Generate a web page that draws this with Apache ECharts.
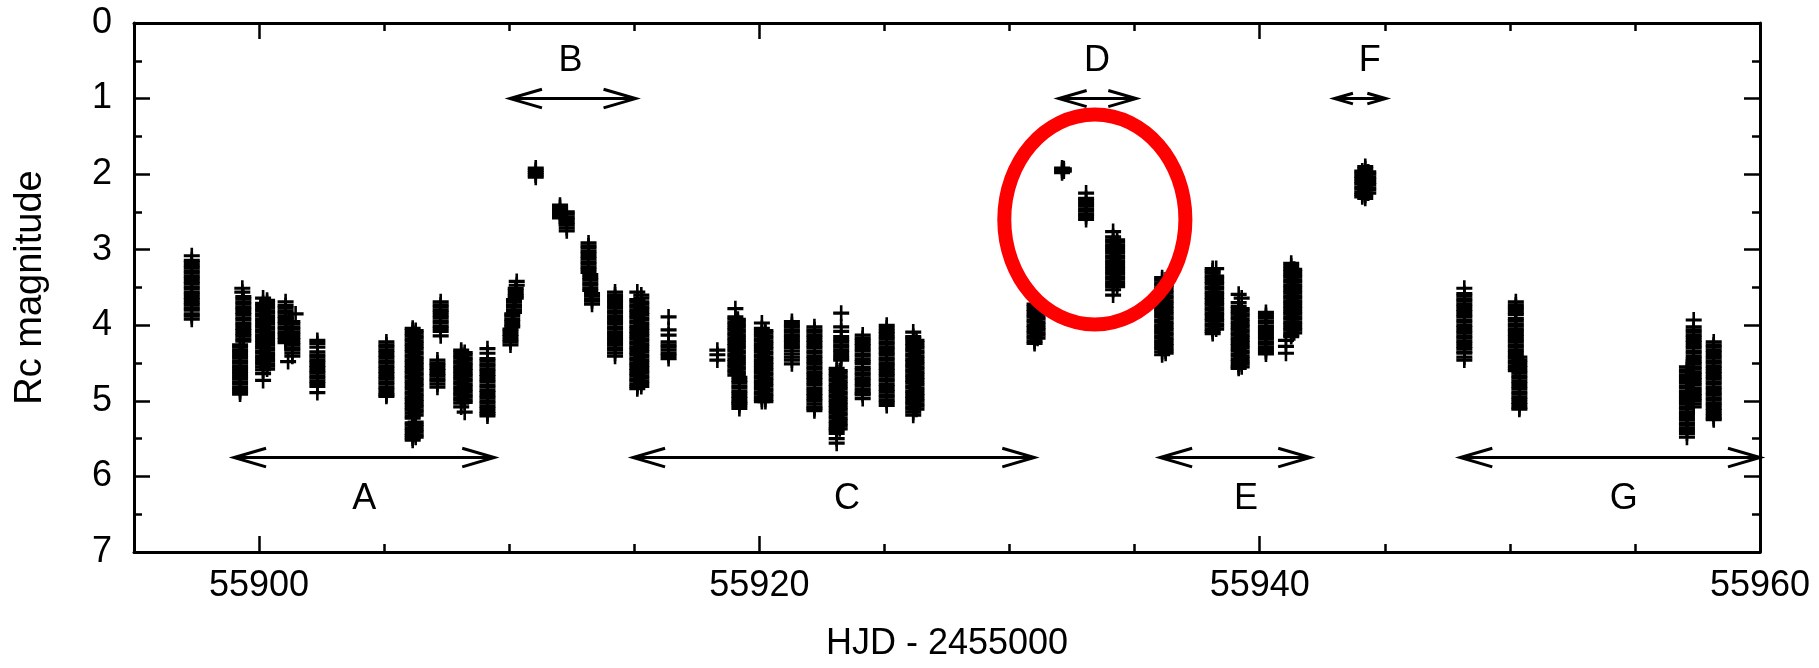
<!DOCTYPE html>
<html>
<head>
<meta charset="utf-8">
<script src="https://cdn.jsdelivr.net/npm/echarts@6/dist/echarts.min.js"></script>
<style>
  html, body { margin: 0; padding: 0; background: #ffffff; }
  #chart { width: 1819px; height: 668px; }
</style>
</head>
<body>
<div id="chart"></div>
<script>
// Rc-band light curve: each run is one block of exposures taken at (nearly) the same HJD.
const runHJD = [
  55897.31, 55899.33, 55899.37, 55899.24, 55900.16, 55900.32, 55901.06, 55901.33, 55901.46, 55901.16,
  55902.33, 55905.09, 55906.14, 55906.26, 55907.26, 55907.13, 55908.08, 55908.22, 55909.13, 55910.05,
  55910.12, 55910.19, 55910.26, 55910.30, 55911.06, 55912.03, 55912.30, 55913.17, 55913.24, 55913.31,
  55914.23, 55915.12, 55915.28, 55916.37, 55918.32, 55919.04, 55919.14, 55919.20, 55920.10, 55920.24,
  55921.30, 55922.20, 55923.27, 55923.09, 55923.21, 55924.13, 55925.09, 55926.15, 55926.28, 55931.00,
  55931.12, 55932.10, 55932.17, 55933.06, 55934.14, 55934.30, 55936.10, 55936.24, 55938.12, 55938.26,
  55939.16, 55939.28, 55940.25, 55941.26, 55941.38, 55941.05, 55944.10, 55944.22, 55944.34, 55948.18,
  55950.24, 55950.38, 55957.08, 55957.35, 55958.15
];

const runRc = [
  [3.08,3.14,3.17,3.21,3.24,3.28,3.31,3.35,3.38,3.42,3.45,3.49,3.52,3.56,3.59,3.63,3.66,3.70,3.73,3.77,3.80,3.85,3.88,3.92],
  [3.51,3.56],
  [3.62,3.65,3.69,3.72,3.76,3.79,3.83,3.86,3.90,3.93,3.97,4.00,4.04,4.07,4.11,4.14,4.18,4.21],
  [4.26,4.29,4.33,4.36,4.40,4.43,4.47,4.50,4.54,4.57,4.61,4.64,4.68,4.71,4.75,4.78,4.82,4.85,4.88,4.91],
  [3.64,3.71,3.74,3.78,3.81,3.85,3.88,3.92,3.95,3.99,4.02,4.06,4.09,4.13,4.16,4.20,4.23,4.27,4.30,4.34,4.37,4.41,4.44,4.48,4.51,4.55,4.59,4.64,4.73],
  [3.67,3.70,3.74,3.77,3.81,3.84,3.88,3.91,3.95,3.98,4.02,4.05,4.09,4.12,4.16,4.19,4.23,4.26,4.30,4.33,4.37,4.40,4.44,4.47,4.51,4.54,4.58],
  [3.69,3.74,3.77,3.81,3.84,3.88,3.91,3.95,3.98,4.02,4.05,4.09,4.12,4.16,4.19,4.23],
  [3.95,3.98,4.02,4.05,4.09,4.12,4.16,4.19,4.23,4.26,4.30,4.33,4.37,4.41],
  [3.85],
  [4.48],
  [4.20,4.24,4.29,4.35,4.39,4.42,4.46,4.49,4.53,4.56,4.60,4.63,4.67,4.70,4.74,4.77,4.81,4.89],
  [4.22,4.26,4.29,4.33,4.36,4.40,4.43,4.47,4.50,4.54,4.57,4.61,4.64,4.68,4.71,4.75,4.78,4.82,4.85,4.89,4.92,4.94],
  [4.04,4.07,4.11,4.14,4.18,4.21,4.25,4.28,4.32,4.35,4.39,4.42,4.46,4.49,4.53,4.56,4.60,4.63,4.67,4.70,4.74,4.77,4.81,4.84,4.88,4.91,4.95,4.98,5.02,5.05,5.09,5.12,5.16,5.20,5.23,5.29,5.32,5.36,5.39,5.43,5.46,5.49,5.52],
  [4.07,4.10,4.14,4.17,4.21,4.24,4.28,4.31,4.35,4.38,4.42,4.45,4.49,4.52,4.56,4.59,4.63,4.66,4.70,4.73,4.77,4.80,4.84,4.87,4.91,4.94,4.98,5.01,5.05,5.08,5.12,5.15,5.19,5.28,5.31,5.34,5.38,5.41,5.45,5.48],
  [3.69,3.73,3.76,3.80,3.83,3.87,3.90,3.94,3.97,4.01,4.04,4.08,4.14],
  [4.46,4.50,4.53,4.57,4.60,4.64,4.67,4.71,4.74,4.78,4.82],
  [4.33,4.36,4.40,4.43,4.47,4.50,4.54,4.57,4.61,4.64,4.68,4.71,4.75,4.78,4.82,4.85,4.89,4.92,4.96,4.99,5.03,5.08],
  [4.36,4.39,4.43,4.46,4.50,4.53,4.57,4.60,4.64,4.67,4.71,4.74,4.78,4.81,4.85,4.88,4.92,4.95,4.99,5.02,5.15],
  [4.31,4.37,4.44,4.47,4.51,4.54,4.58,4.61,4.65,4.68,4.72,4.75,4.79,4.82,4.86,4.89,4.93,4.96,5.00,5.03,5.07,5.10,5.14,5.17,5.20],
  [4.05,4.08,4.12,4.15,4.19,4.22,4.26],
  [3.85,3.88,3.92,3.95,3.99,4.02],
  [3.66,3.69,3.73,3.76,3.80,3.83],
  [3.51,3.54,3.58,3.61,3.64],
  [3.42,3.47],
  [1.92,1.95,1.98,2.01,2.04],
  [2.41,2.44,2.48,2.51,2.55,2.58],
  [2.50,2.53,2.57,2.60,2.64,2.67,2.71,2.75],
  [2.91,2.95,2.98,3.02,3.05,3.09,3.12,3.16,3.19,3.23,3.26,3.30],
  [3.33,3.37,3.40,3.44,3.47,3.51,3.54],
  [3.58,3.61,3.65,3.68,3.72],
  [3.56,3.60,3.63,3.67,3.70,3.74,3.77,3.81,3.84,3.88,3.91,3.95,3.98,4.02,4.05,4.09,4.12,4.16,4.19,4.23,4.26,4.30,4.33,4.37,4.41],
  [3.56,3.66,3.69,3.73,3.76,3.80,3.83,3.87,3.90,3.94,3.97,4.01,4.04,4.08,4.11,4.15,4.18,4.22,4.25,4.29,4.32,4.36,4.39,4.43,4.46,4.50,4.53,4.57,4.60,4.64,4.67,4.71,4.74,4.78,4.81,4.84],
  [3.60,3.64,3.69,3.72,3.76,3.79,3.83,3.86,3.90,3.93,3.97,4.00,4.04,4.07,4.11,4.14,4.18,4.21,4.25,4.28,4.32,4.35,4.39,4.42,4.46,4.49,4.53,4.56,4.60,4.63,4.67,4.70,4.74,4.77,4.81],
  [3.89,4.06,4.13,4.22,4.26,4.29,4.33,4.37,4.40,4.44],
  [4.33,4.39,4.46],
  [3.78,3.89,3.92,3.96,3.99,4.03,4.06,4.10,4.13,4.17,4.20,4.24,4.27,4.31,4.34,4.38,4.41,4.45,4.48,4.52,4.55,4.59,4.62,4.66],
  [3.92,3.95,3.99,4.02,4.06,4.09,4.13,4.16,4.20,4.23,4.27,4.30,4.34,4.37,4.41,4.44,4.48,4.51,4.55,4.58,4.62,4.65],
  [4.69,4.73,4.76,4.80,4.83,4.87,4.90,4.94,4.97,5.01,5.03,5.06,5.10],
  [3.97,4.04,4.07,4.11,4.14,4.18,4.21,4.25,4.28,4.32,4.35,4.39,4.42,4.46,4.49,4.53,4.56,4.60,4.63,4.67,4.70,4.74,4.77,4.81,4.84,4.88,4.91,4.95,4.98,5.01],
  [4.07,4.10,4.14,4.17,4.21,4.24,4.28,4.31,4.35,4.38,4.42,4.45,4.49,4.52,4.56,4.59,4.63,4.66,4.70,4.73,4.77,4.80,4.84,4.87,4.91,4.94,4.98,5.01],
  [3.95,3.99,4.02,4.06,4.09,4.13,4.16,4.20,4.23,4.27,4.30,4.34,4.38,4.42,4.46,4.51],
  [4.02,4.06,4.09,4.13,4.16,4.20,4.23,4.27,4.30,4.34,4.37,4.41,4.44,4.48,4.51,4.55,4.58,4.62,4.65,4.69,4.72,4.76,4.79,4.83,4.86,4.90,4.93,4.97,5.00,5.04,5.08,5.10,5.13],
  [3.84,4.02,4.08,4.15,4.19,4.22,4.26,4.29,4.33,4.36,4.40,4.43,4.46],
  [4.57,4.60,4.64,4.67,4.71,4.74,4.78,4.81,4.85,4.88,4.92,4.95,4.99,5.02,5.06,5.09,5.13,5.16,5.20,5.23,5.27,5.30,5.34,5.37,5.39,5.43,5.50,5.56],
  [4.60,4.63,4.67,4.70,4.74,4.77,4.81,4.84,4.88,4.91,4.95,4.98,5.02,5.05,5.09,5.12,5.16,5.19,5.23,5.26,5.30,5.33,5.37],
  [4.13,4.17,4.20,4.24,4.27,4.31,4.34,4.38,4.41,4.45,4.48,4.51,4.56,4.59,4.63,4.66,4.70,4.73,4.77,4.80,4.84,4.87,4.90,4.92,4.97],
  [4.00,4.04,4.08,4.11,4.15,4.18,4.22,4.25,4.29,4.32,4.36,4.39,4.43,4.46,4.50,4.53,4.57,4.60,4.64,4.67,4.71,4.74,4.78,4.81,4.85,4.88,4.92,4.95,4.99,5.02,5.06],
  [4.09,4.15,4.17,4.20,4.24,4.27,4.31,4.34,4.38,4.41,4.45,4.48,4.52,4.55,4.59,4.62,4.66,4.69,4.73,4.76,4.80,4.83,4.87,4.90,4.94,4.97,5.01,5.04,5.08,5.11,5.15,5.19],
  [4.20,4.23,4.27,4.30,4.34,4.37,4.41,4.44,4.48,4.51,4.55,4.58,4.62,4.65,4.69,4.72,4.76,4.79,4.83,4.86,4.90,4.93,4.97,5.00,5.04,5.07,5.11],
  [3.72,3.75,3.79,3.82,3.86,3.89,3.93,3.96,4.00,4.03,4.07,4.10,4.14,4.17,4.21,4.24],
  [3.75,3.78,3.82,3.85,3.89,3.92,3.96,3.99,4.03,4.06,4.10,4.13,4.17],
  [1.92,1.95,1.98],
  [1.93,1.96],
  [2.25,2.32,2.35,2.39,2.42,2.46,2.49,2.53,2.56,2.60],
  [2.76,2.83,2.87,2.90,2.94,2.97,3.01,3.04,3.08,3.11,3.15,3.18,3.22,3.25,3.29,3.32,3.36,3.39,3.43,3.46,3.49,3.53,3.60],
  [2.87,2.90,2.94,2.97,3.01,3.04,3.08,3.11,3.15,3.18,3.22,3.25,3.29,3.32,3.36,3.39,3.43,3.46,3.49],
  [3.37,3.40,3.44,3.47,3.51,3.54,3.58,3.61,3.65,3.68,3.72,3.75,3.79,3.82,3.86,3.89,3.93,3.96,4.00,4.03,4.07,4.10,4.14,4.17,4.21,4.24,4.28,4.31,4.35,4.39],
  [3.40,3.43,3.47,3.50,3.54,3.57,3.61,3.64,3.68,3.71,3.75,3.78,3.82,3.85,3.89,3.92,3.96,3.99,4.03,4.06,4.10,4.13,4.17,4.20,4.24,4.27,4.31,4.34,4.37],
  [3.25,3.28,3.31,3.35,3.38,3.42,3.45,3.49,3.52,3.56,3.59,3.63,3.66,3.70,3.73,3.77,3.80,3.84,3.87,3.91,3.94,3.98,4.01,4.05,4.08,4.11],
  [3.25,3.35,3.38,3.42,3.45,3.49,3.52,3.56,3.59,3.63,3.66,3.70,3.73,3.77,3.80,3.84,3.87,3.91,3.94,3.98,4.01,4.05],
  [3.59,3.70,3.75,3.78,3.82,3.85,3.89,3.92,3.96,3.99,4.03,4.06,4.10,4.13,4.17,4.20,4.24,4.27,4.31,4.34,4.38,4.41,4.45,4.48,4.52,4.55,4.57],
  [3.64,3.78,3.81,3.85,3.88,3.92,3.95,3.99,4.02,4.06,4.09,4.13,4.16,4.20,4.23,4.27,4.30,4.34,4.37,4.41,4.44,4.48,4.51,4.55],
  [3.83,3.87,3.90,3.94,3.97,4.01,4.04,4.08,4.11,4.15,4.18,4.22,4.25,4.29,4.32,4.35,4.38],
  [3.18,3.22,3.26,3.29,3.33,3.36,3.40,3.43,3.47,3.50,3.54,3.57,3.61,3.64,3.68,3.71,3.75,3.78,3.82,3.85,3.89,3.92,3.96,3.99,4.03,4.06,4.10,4.13,4.15],
  [3.26,3.29,3.33,3.36,3.40,3.43,3.47,3.50,3.54,3.57,3.61,3.64,3.68,3.71,3.75,3.78,3.82,3.85,3.89,3.92,3.96,3.99,4.03,4.06,4.10],
  [4.20,4.28,4.37],
  [1.96,1.99,2.03,2.06,2.10,2.13,2.17,2.20,2.24,2.27,2.30],
  [1.90,1.93,1.97,2.00,2.04,2.07,2.11,2.14,2.18,2.21,2.25,2.28,2.32],
  [1.97,2.00,2.04,2.07,2.11,2.14,2.18,2.21,2.25],
  [3.51,3.58,3.61,3.65,3.68,3.72,3.75,3.79,3.82,3.86,3.89,3.93,3.96,4.00,4.03,4.07,4.10,4.14,4.17,4.21,4.24,4.28,4.31,4.35,4.37,4.42,4.46],
  [3.69,3.73,3.76,3.79,3.83,3.86,3.91,3.94,3.98,4.01,4.05,4.08,4.12,4.15,4.19,4.22,4.26,4.29,4.33,4.36,4.40,4.43,4.47,4.50,4.54,4.57,4.60],
  [4.42,4.46,4.49,4.53,4.56,4.60,4.63,4.67,4.70,4.74,4.77,4.81,4.84,4.88,4.91,4.95,4.98,5.02,5.05,5.09,5.11],
  [4.55,4.59,4.62,4.66,4.69,4.73,4.76,4.80,4.83,4.87,4.90,4.94,4.97,5.01,5.04,5.08,5.11,5.15,5.18,5.22,5.25,5.29,5.32,5.36,5.39,5.43,5.48],
  [3.93,4.02,4.06,4.09,4.13,4.16,4.20,4.23,4.27,4.30,4.34,4.37,4.41,4.44,4.48,4.51,4.55,4.58,4.62,4.65,4.69,4.72,4.76,4.79,4.83,4.86,4.90,4.93,4.97,5.00,5.04,5.08],
  [4.22,4.26,4.29,4.33,4.36,4.40,4.43,4.47,4.50,4.54,4.57,4.61,4.64,4.68,4.71,4.75,4.78,4.82,4.85,4.89,4.92,4.96,4.99,5.03,5.06,5.10,5.13,5.17,5.20,5.23,5.25]
];

// Observing intervals marked with double-headed arrows
const spanLabels   = ['A', 'B', 'C', 'D', 'E', 'F', 'G'];
const spanStart    = [55899.0, 55910.03, 55914.95, 55931.97, 55936.02, 55942.99, 55948.02];
const spanEnd      = [55909.4, 55915.05, 55930.99, 55935.06, 55942.02, 55945.04, 55960.0];
const spanArrowRc  = [5.75, 1.0, 5.75, 1.0, 5.75, 1.0, 5.75];
const spanLabelHJD = [55904.2, 55912.45, 55923.5, 55933.5, 55939.45, 55944.4, 55954.55];
const spanLabelRc  = [6.3, 0.5, 6.3, 0.5, 6.3, 0.5, 6.3];

// Axis ticks
const xMajorTicks = [55900, 55920, 55940, 55960];
const xMinorTicks = [55905, 55910, 55915, 55925, 55930, 55935, 55945, 55950, 55955];

const FONT = '"Liberation Sans", Arial, Helvetica, sans-serif';
const INK = '#000000';

const points = [];
runHJD.forEach((t, i) => runRc[i].forEach(m => points.push([t, m])));

const spanData = spanLabels.map((lab, i) => [spanStart[i], spanEnd[i], spanArrowRc[i], spanLabelHJD[i], spanLabelRc[i]]);

// circled outburst (D)
const ringCenter = [55933.41, 2.6];
const ringRadius = [3.62, 1.39];

// filled "+" marker: slightly heavier horizontal bar, as in the plotted points
const PLUS = 'path://M0,6.4H16V9.6H0Z M6.7,0H9.3V16H6.7Z';

const chart = echarts.init(document.getElementById('chart'), null, { renderer: 'canvas' });

function xAxisDef(position, major, showLine) {
  return {
    type: 'value', gridIndex: 0, position: position,
    min: 55895, max: 55960,
    axisLine: { show: showLine, onZero: false, lineStyle: { color: INK, width: 3 } },
    axisTick: major
      ? { show: true, inside: true, length: 16, customValues: xMajorTicks, lineStyle: { color: INK, width: 2.5 } }
      : { show: true, inside: true, length: 8, customValues: xMinorTicks, lineStyle: { color: INK, width: 2.5 } },
    axisLabel: (major && position === 'bottom')
      ? { show: true, customValues: xMajorTicks, fontSize: 36, fontFamily: FONT, color: INK, margin: 16,
          formatter: v => String(v) }
      : { show: false },
    splitLine: { show: false }
  };
}

function yAxisDef(position) {
  return {
    type: 'value', gridIndex: 0, position: position,
    min: 0, max: 7, interval: 1, inverse: true,
    axisLine: { show: true, onZero: false, lineStyle: { color: INK, width: 3 } },
    axisTick: { show: true, inside: true, length: 16, lineStyle: { color: INK, width: 2.5 } },
    minorTick: { show: true, splitNumber: 2, length: 8, lineStyle: { color: INK, width: 2.5 } },
    axisLabel: position === 'left'
      ? { show: true, fontSize: 36, fontFamily: FONT, color: INK, margin: 22 }
      : { show: false },
    splitLine: { show: false },
    minorSplitLine: { show: false }
  };
}

const xBottom = xAxisDef('bottom', true, true);
xBottom.name = 'HJD - 2455000';
xBottom.nameLocation = 'middle';
xBottom.nameGap = 74;
xBottom.nameTextStyle = { fontSize: 36, fontFamily: FONT, color: INK };

const yLeft = yAxisDef('left');
yLeft.name = 'Rc magnitude';
yLeft.nameLocation = 'middle';
yLeft.nameGap = 84;
yLeft.nameTextStyle = { fontSize: 38, fontFamily: FONT, color: INK };

chart.setOption({
  animation: false,
  backgroundColor: '#ffffff',
  grid: { left: 134, right: 59, top: 23, bottom: 116, containLabel: false },
  xAxis: [xBottom, xAxisDef('bottom', false, false), xAxisDef('top', true, true), xAxisDef('top', false, false)],
  yAxis: [yLeft, yAxisDef('right')],
  series: [
    {
      type: 'scatter',
      xAxisIndex: 0, yAxisIndex: 0,
      data: points,
      symbol: PLUS,
      symbolSize: 16,
      itemStyle: { color: INK, borderWidth: 0, opacity: 1 },
      silent: true,
      z: 2
    },
    {
      type: 'custom',
      xAxisIndex: 0, yAxisIndex: 0,
      data: spanData,
      clip: false,
      silent: true,
      z: 3,
      renderItem: function (params, api) {
        const a = api.coord([api.value(0), api.value(2)]);
        const b = api.coord([api.value(1), api.value(2)]);
        const lp = api.coord([api.value(3), api.value(4)]);
        const len = b[0] - a[0];
        const h = Math.min(32, len * 0.36);
        const w = h * 0.29;
        const stroke = { stroke: INK, lineWidth: 3, fill: null, lineJoin: 'miter' };
        return {
          type: 'group',
          children: [
            { type: 'line', shape: { x1: a[0], y1: a[1], x2: b[0], y2: b[1] }, style: stroke },
            { type: 'polyline', shape: { points: [[a[0] + h, a[1] - w], [a[0], a[1]], [a[0] + h, a[1] + w]] }, style: stroke },
            { type: 'polyline', shape: { points: [[b[0] - h, b[1] - w], [b[0], b[1]], [b[0] - h, b[1] + w]] }, style: stroke },
            {
              type: 'text', x: lp[0], y: lp[1],
              style: { text: spanLabels[params.dataIndex], fontSize: 36, fontFamily: FONT, fill: INK, align: 'center', verticalAlign: 'middle' }
            }
          ]
        };
      }
    },
    {
      type: 'custom',
      xAxisIndex: 0, yAxisIndex: 0,
      data: [ringCenter],
      clip: false,
      silent: true,
      z: 4,
      renderItem: function (params, api) {
        const c = api.coord([api.value(0), api.value(1)]);
        const r = api.size(ringRadius, ringCenter);
        return {
          type: 'ellipse',
          shape: { cx: c[0], cy: c[1], rx: r[0], ry: r[1] },
          style: { fill: null, stroke: '#ff0000', lineWidth: 14 }
        };
      }
    }
  ]
});
</script>
</body>
</html>
